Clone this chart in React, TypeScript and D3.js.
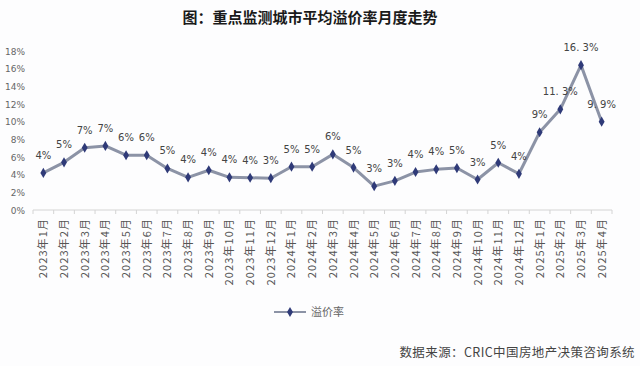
import * as d3 from 'd3'
import { useEffect, useRef } from 'react'

const months = [
  '2023年1月', '2023年2月', '2023年3月', '2023年4月', '2023年5月', '2023年6月',
  '2023年7月', '2023年8月', '2023年9月', '2023年10月', '2023年11月', '2023年12月',
  '2024年1月', '2024年2月', '2024年3月', '2024年4月', '2024年5月', '2024年6月',
  '2024年7月', '2024年8月', '2024年9月', '2024年10月', '2024年11月', '2024年12月',
  '2025年1月', '2025年2月', '2025年3月', '2025年4月',
]

const premium = [
  4.2, 5.4, 7.05, 7.25, 6.2, 6.2, 4.7, 3.7, 4.5, 3.7, 3.65, 3.6,
  4.9, 4.9, 6.3, 4.8, 2.7, 3.3, 4.3, 4.6, 4.75, 3.45, 5.35, 4.1,
  8.8, 11.4, 16.4, 10.0,
]

const pointLabels = [
  '4%', '5%', '7%', '7%', '6%', '6%', '5%', '4%', '4%', '4%', '4%', '3%',
  '5%', '5%', '6%', '5%', '3%', '3%', '4%', '4%', '5%', '3%', '5%', '4%',
  '9%', '11. 3%', '16. 3%', '9. 9%',
]

const yTicks = [0, 2, 4, 6, 8, 10, 12, 14, 16, 18]

const W = 640
const H = 366
const PLOT = { left: 33, right: 612, top: 51, bottom: 210 }
const CJK = '"Noto Sans CJK SC", "DejaVu Sans", sans-serif'

const drawChart = (node: SVGSVGElement) => {
  const svg = d3.select(node)
  svg.selectAll('*').remove()

  svg.append('rect').attr('width', W).attr('height', H).attr('fill', '#fdfdfe')

  const x = d3.scaleBand()
    .domain(months)
    .range([PLOT.left, PLOT.right])

  const y = d3.scaleLinear()
    .domain([0, 18])
    .range([PLOT.bottom, PLOT.top])

  const cx = (m: string) => (x(m) as number) + x.bandwidth() / 2

  // title
  svg.append('text')
    .attr('x', 310)
    .attr('y', 23)
    .attr('text-anchor', 'middle')
    .attr('font-family', CJK)
    .attr('font-weight', 'bold')
    .attr('font-size', 15)
    .attr('fill', '#1a1a1a')
    .text('图：重点监测城市平均溢价率月度走势')

  // y tick labels
  svg.append('g')
    .selectAll('text')
    .data(yTicks)
    .join('text')
    .attr('x', 25)
    .attr('y', d => y(d) + 3.5)
    .attr('text-anchor', 'end')
    .attr('font-family', '"DejaVu Sans", sans-serif')
    .attr('font-size', 9)
    .attr('fill', '#666')
    .text(d => d + '%')

  // x axis line + ticks between bands
  const xAxis = svg.append('g')
  xAxis.append('line')
    .attr('x1', PLOT.left).attr('x2', PLOT.right)
    .attr('y1', PLOT.bottom).attr('y2', PLOT.bottom)
    .attr('stroke', '#d4d4d4')
  xAxis.selectAll('line.tick')
    .data(months.concat(['end']))
    .join('line')
    .attr('class', 'tick')
    .attr('x1', (d, i) => i < months.length ? (x(d) as number) : PLOT.right)
    .attr('x2', (d, i) => i < months.length ? (x(d) as number) : PLOT.right)
    .attr('y1', PLOT.bottom).attr('y2', PLOT.bottom + 4)
    .attr('stroke', '#d4d4d4')

  xAxis.selectAll('text')
    .data(months)
    .join('text')
    .attr('transform', d => `translate(${cx(d) + 4},${PLOT.bottom + 8}) rotate(-90)`)
    .attr('text-anchor', 'end')
    .attr('font-family', CJK)
    .attr('font-size', 11)
    .attr('letter-spacing', 1.1)
    .attr('fill', '#555')
    .text(d => d)

  // line
  const line = d3.line<number>()
    .x((d, i) => cx(months[i]))
    .y(d => y(d))

  svg.append('path')
    .datum(premium)
    .attr('d', line)
    .attr('fill', 'none')
    .attr('stroke', '#8c93a6')
    .attr('stroke-width', 3)
    .attr('stroke-linejoin', 'round')

  const diamond = d3.symbol().type(d3.symbolDiamond).size(30)

  svg.append('g')
    .selectAll('path')
    .data(premium)
    .join('path')
    .attr('transform', (d, i) => `translate(${cx(months[i])},${y(d)})`)
    .attr('d', diamond)
    .attr('fill', '#2f3a78')

  // point labels
  svg.append('g')
    .selectAll('text')
    .data(premium)
    .join('text')
    .attr('x', (d, i) => cx(months[i]))
    .attr('y', d => y(d) - 14)
    .attr('text-anchor', 'middle')
    .attr('font-family', '"DejaVu Sans", sans-serif')
    .attr('font-size', 10)
    .attr('fill', '#444')
    .text((d, i) => pointLabels[i])

  // legend
  const lg = svg.append('g').attr('transform', 'translate(274,312)')
  lg.append('line').attr('x1', 0).attr('x2', 32).attr('stroke', '#8c93a6').attr('stroke-width', 2)
  lg.append('path').attr('transform', 'translate(16,0)').attr('d', diamond).attr('fill', '#2f3a78')
  lg.append('text')
    .attr('x', 37).attr('y', 4)
    .attr('font-family', CJK)
    .attr('font-size', 11)
    .attr('fill', '#666')
    .text('溢价率')

  // source
  svg.append('text')
    .attr('x', 635)
    .attr('y', 357)
    .attr('text-anchor', 'end')
    .attr('font-family', CJK)
    .attr('font-size', 12.5)
    .attr('letter-spacing', 0.4)
    .attr('fill', '#444')
    .text('数据来源：CRIC中国房地产决策咨询系统')
}

export default function App() {
  const ref = useRef<SVGSVGElement>(null)
  useEffect(() => {
    if (ref.current) drawChart(ref.current)
  }, [])
  return (
    <svg ref={ref} width={W} height={H} style={{ position: 'absolute', left: 0, top: 0 }} />
  )
}
